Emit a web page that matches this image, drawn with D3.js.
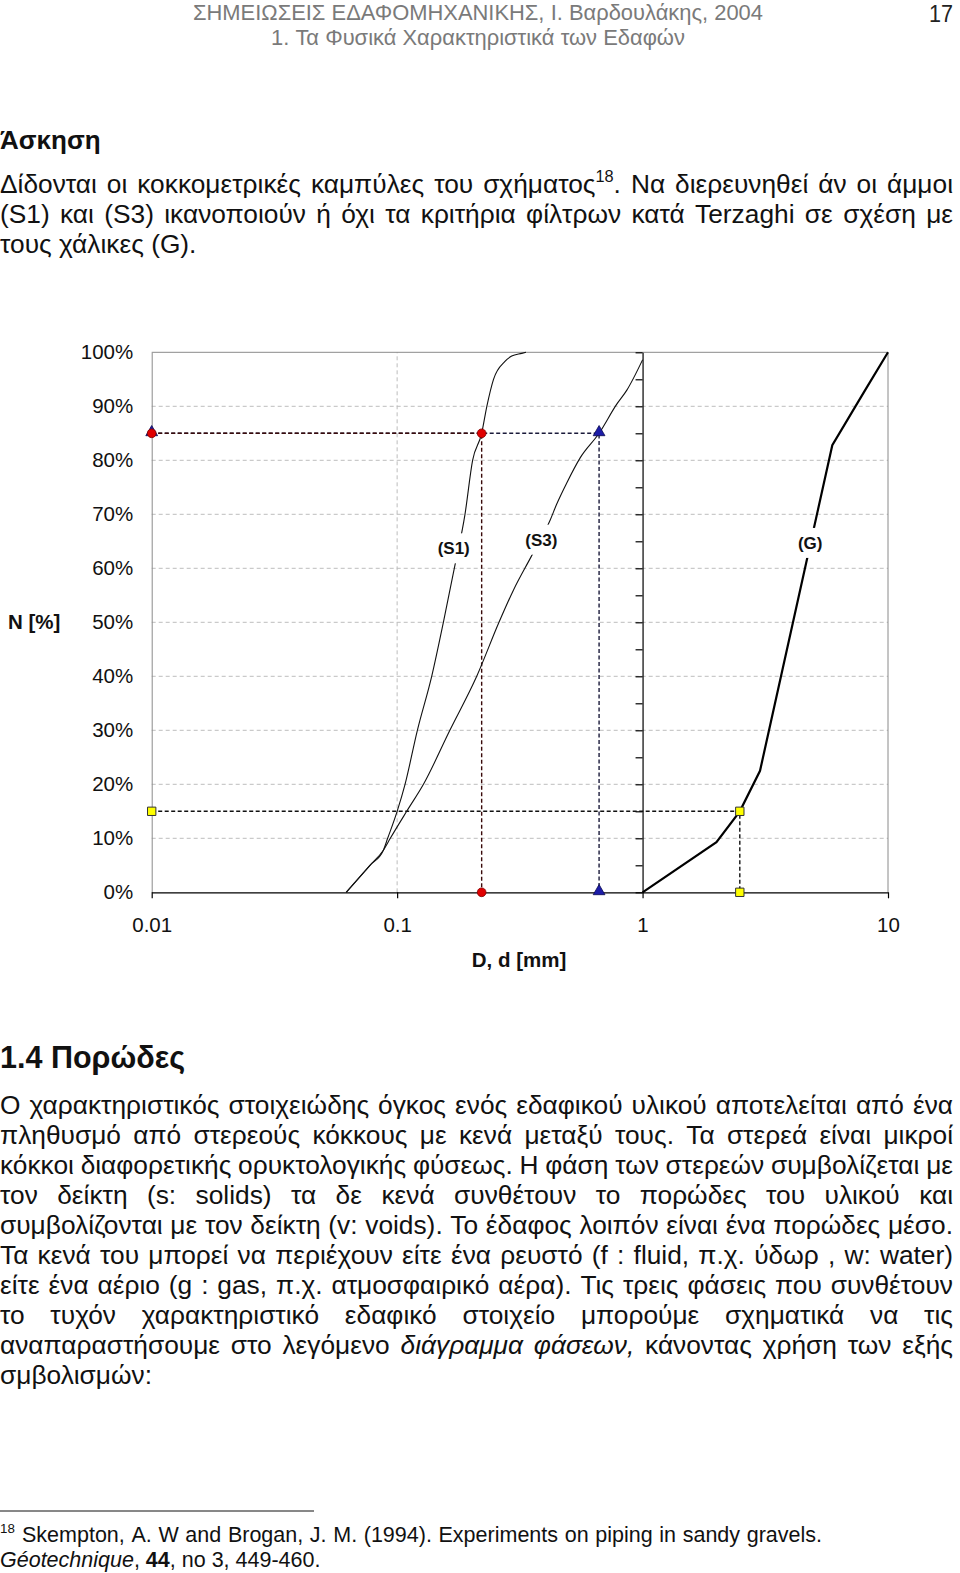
<!DOCTYPE html>
<html><head><meta charset="utf-8">
<script src="https://cdn.jsdelivr.net/npm/d3@7"></script>
<style>body{margin:0;background:#fff} svg{display:block}</style>
</head><body>
<svg id="page" width="960" height="1573"></svg>
<script>
// ---------- chart data ----------
const yTickValues = [0,10,20,30,40,50,60,70,80,90,100];
const yTickLabels = ["0%","10%","20%","30%","40%","50%","60%","70%","80%","90%","100%"];
const xTickValues = [0.01,0.1,1,10];
const xTickLabels = ["0.01","0.1","1","10"];
const minorTickValues = [0,5,10,15,20,25,30,35,40,45,50,55,60,65,70,75,80,85,90,95,100];
const gridNValues = [10,20,30,40,50,60,70,80,90];
const gridDValues = [0.1];

const s1D = [0.062,0.0775,0.0879,0.0915,0.100,0.1077,0.1209,0.1383,0.1543,0.171,0.189,0.203,0.221,0.232,0.247,0.275,0.293,0.322,0.335];
const s1N = [0,5,7.8,10,15,20,30,40,50,60,70,80,85,90,95,98.3,99.3,99.8,100];
const s3D = [0.062,0.0775,0.0879,0.0938,0.1094,0.128,0.164,0.211,0.26,0.298,0.353,0.42,0.447,0.491,0.556,0.665,0.785,0.863,1.0];
const s3N = [0,5,7.8,10,15,20,30,40,50,56,62.3,68.9,71.9,75.8,80.4,85,90.4,93,98.6];
const gD = [1,2.0,2.49,3.01,5.93,8.07,10];
const gN = [0,9.3,15,22.5,82.8,93,100];

const redD = [0.01,0.221,0.221];   const redN = [85,85,0];
const blueD = [0.01,0.665,0.665];  const blueN = [85,85,0];
const yellowD = [0.01,2.49,2.49];  const yellowN = [15,15,0];

const curveLabels = ["(S1)","(S3)","(G)"];
const curveLabelD = [0.170,0.387,4.82];
const curveLabelN = [63.7,65.3,64.7];

const yAxisTitle = "N [%]";
const xAxisTitle = "D, d [mm]";

// ---------- page text ----------
const headerLine1 = "ΣΗΜΕΙΩΣΕΙΣ ΕΔΑΦΟΜΗΧΑΝΙΚΗΣ,  Ι. Βαρδουλάκης, 2004";
const headerLine2 = "1. Τα Φυσικά Χαρακτηριστικά των Εδαφών";
const pageNumber = "17";
const heading1 = "Άσκηση";
const para1 = [
  "Δίδονται οι κοκκομετρικές καμπύλες του σχήματος^18^. Να διερευνηθεί άν οι άμμοι",
  "(S1) και (S3) ικανοποιούν ή όχι τα κριτήρια φίλτρων κατά Terzaghi σε σχέση με",
  "τους χάλικες (G)."
];
const heading2 = "1.4 Πορώδες";
const para2 = [
  "Ο χαρακτηριστικός στοιχειώδης όγκος ενός εδαφικού υλικού αποτελείται από ένα",
  "πληθυσμό από στερεούς κόκκους με κενά μεταξύ τους. Τα στερεά είναι μικροί",
  "κόκκοι διαφορετικής ορυκτολογικής φύσεως. Η φάση των στερεών συμβολίζεται με",
  "τον δείκτη (s: solids) τα δε κενά συνθέτουν το πορώδες του υλικού και",
  "συμβολίζονται με τον δείκτη (v: voids). Το έδαφος λοιπόν είναι ένα πορώδες μέσο.",
  "Τα κενά του μπορεί να περιέχουν είτε ένα ρευστό (f : fluid, π.χ. ύδωρ , w: water)",
  "είτε ένα αέριο (g : gas, π.χ. ατμοσφαιρικό αέρα). Τις τρεις φάσεις που συνθέτουν",
  "το τυχόν χαρακτηριστικό εδαφικό στοιχείο μπορούμε σχηματικά να τις",
  "αναπαραστήσουμε στο λεγόμενο _διάγραμμα_ _φάσεων,_ κάνοντας χρήση των εξής",
  "σμβολισμών:"
];
const foot1 = "Skempton, A. W and Brogan, J. M. (1994). Experiments on piping in sandy gravels.";
const foot2 = "_Géotechnique_, *44*, no 3, 449-460.";
const footMark = "18";

// ---------- drawing ----------
const svg = d3.select("#page");
const FONT = "'Liberation Sans', Arial, Helvetica, sans-serif";

function parseWord(w){
  const segs = [];
  const re = /(_[^_]+_|\*[^*]+\*|\^[^^]+\^|[^_*^]+)/g;
  let m;
  while((m = re.exec(w))){
    const t = m[0];
    if(t[0]==="_") segs.push({t:t.slice(1,-1), i:true});
    else if(t[0]==="*") segs.push({t:t.slice(1,-1), b:true});
    else if(t[0]==="^") segs.push({t:t.slice(1,-1), sup:true});
    else segs.push({t});
  }
  return segs;
}

// mode: "left" (natural spacing), "justify" (stretch spaces), "fit" (natural spacing, compress glyphs to width)
function drawLine(str, o){
  const size = o.size;
  const g = svg.append("g");
  const text = g.append("text").attr("font-family", FONT).attr("font-size", size)
    .attr("fill", o.fill || "#111").attr("font-weight", o.weight || "normal");
  const words = str.split(/\s+/).filter(d=>d.length);
  const info = words.map(w=>{
    const segs = parseWord(w);
    const spans = segs.map(s=>{
      const ts = text.append("tspan").text(s.t).attr("y", s.sup ? -size*0.42 : 0);
      if(s.i) ts.attr("font-style","italic");
      if(s.b) ts.attr("font-weight","bold");
      if(s.sup) ts.attr("font-size", size*0.62);
      return ts;
    });
    const width = d3.sum(spans, ts=>ts.node().getComputedTextLength());
    return {spans, width};
  });
  const total = d3.sum(info, d=>d.width);
  let gap = size*0.278, sx = 1;
  const mode = o.mode || "left";
  if(mode==="justify" && info.length>1){
    gap = (o.x1 - o.x0 - total)/(info.length-1);
  } else if(mode==="fit"){
    sx = (o.x1 - o.x0)/(total + gap*(info.length-1));
  }
  g.attr("transform", `translate(${o.x0},${o.y}) scale(${sx},1)`);
  let x = 0;
  info.forEach(d=>{ d.spans[0].attr("x", x); x += d.width + gap; });
  return g;
}

// header
drawLine(headerLine1, {x0:193, x1:763, y:20, size:22, mode:"fit", fill:"#7a7a7a"});
drawLine(headerLine2, {x0:271, x1:685, y:45, size:22, mode:"fit", fill:"#7a7a7a"});
drawLine(pageNumber, {x0:929, x1:953, y:22, size:24, mode:"fit", fill:"#222"});

// first block
drawLine(heading1, {x0:0, y:149, size:26, weight:"bold"});
para1.forEach((l,i)=> drawLine(l, {x0:0, x1:953, y:193+30*i, size:26.3, mode: i<para1.length-1 ? "justify" : "left"}));

// section 1.4
drawLine(heading2, {x0:0, y:1068, size:30.5, weight:"bold"});
para2.forEach((l,i)=> drawLine(l, {x0:0, x1:953, y:1113.5+30*i, size:26.3, mode: i<para2.length-1 ? "justify" : "left"}));

// footnote
svg.append("line").attr("x1",0).attr("x2",314).attr("y1",1511).attr("y2",1511)
  .attr("stroke","#111").attr("stroke-width",1);
drawLine("^"+footMark+"^", {x0:0, y:1542, size:21.5});
drawLine(foot1, {x0:22, x1:822, y:1542, size:21.5, mode:"justify"});
drawLine(foot2, {x0:0, y:1567, size:21.5});

// ---------- chart ----------
const x = d3.scaleLog().domain([0.01,10]).range([151.7,888]);
const y = d3.scaleLinear().domain([0,100]).range([892.3,352.3]);
const chart = svg.append("g").attr("font-family", FONT);

// gridlines
chart.append("g").selectAll("line").data(gridNValues).join("line")
  .attr("x1", x(0.01)).attr("x2", x(10)).attr("y1", d=>y(d)).attr("y2", d=>y(d))
  .attr("stroke","#bdbdbd").attr("stroke-dasharray","4,3");
chart.append("g").selectAll("line").data(gridDValues).join("line")
  .attr("x1", d=>x(d)).attr("x2", d=>x(d)).attr("y1", y(0)).attr("y2", y(100))
  .attr("stroke","#bdbdbd").attr("stroke-dasharray","4,3");

// frame (top, right)
chart.append("line").attr("x1",x(0.01)).attr("x2",x(10)).attr("y1",y(100)).attr("y2",y(100))
  .attr("stroke","#8a8a8a");
chart.append("line").attr("x1",x(10)).attr("x2",x(10)).attr("y1",y(0)).attr("y2",y(100))
  .attr("stroke","#8a8a8a");

// left axis
const yAxis = d3.axisLeft(y).tickValues(yTickValues).tickFormat((d,i)=>yTickLabels[i])
  .tickSize(0).tickPadding(18.5);
const ya = chart.append("g").attr("transform",`translate(${x(0.01)},0)`).call(yAxis);
ya.select(".domain").attr("stroke","#8a8a8a");
ya.selectAll("text").attr("font-size",20.5).attr("fill","#111").attr("font-family",FONT);

// secondary axis at D=1
const y2Axis = d3.axisLeft(y).tickValues(minorTickValues).tickFormat("").tickSize(7).tickSizeOuter(0);
const y2 = chart.append("g").attr("transform",`translate(${x(1)},0)`).call(y2Axis);
y2.selectAll("path,line").attr("stroke","#000").attr("stroke-width",1.2);

// bottom axis
const xAxis = d3.axisBottom(x).tickValues(xTickValues).tickFormat((d,i)=>xTickLabels[i])
  .tickSize(6).tickSizeOuter(0).tickPadding(19);
const xa = chart.append("g").attr("transform",`translate(0,${y(0)})`).call(xAxis);
xa.selectAll("path,line").attr("stroke","#000").attr("stroke-width",1.2);
xa.selectAll("text").attr("font-size",20.5).attr("fill","#111").attr("font-family",FONT);

// axis titles
chart.append("text").attr("x",8).attr("y",629).attr("font-size",20.5).attr("font-weight","bold")
  .attr("fill","#111").text(yAxisTitle);
chart.append("text").attr("x",519).attr("y",967).attr("text-anchor","middle").attr("font-size",20.5)
  .attr("font-weight","bold").attr("fill","#111").text(xAxisTitle);

// reference dashed lines
const pts = (D,N)=>D.map((d,i)=>[d,N[i]]);
const lin = d3.line().x(d=>x(d[0])).y(d=>y(d[1]));
chart.append("path").attr("d", lin(pts(blueD,blueN))).attr("fill","none")
  .attr("stroke","#1a1a3a").attr("stroke-width",1.4).attr("stroke-dasharray","4,2.5");
chart.append("path").attr("d", lin(pts(redD,redN))).attr("fill","none")
  .attr("stroke","#3a0a0a").attr("stroke-width",1.4).attr("stroke-dasharray","4,2.5");
chart.append("path").attr("d", lin(pts(yellowD,yellowN))).attr("fill","none")
  .attr("stroke","#111").attr("stroke-width",1.4).attr("stroke-dasharray","4,2.5");

// curves
const smooth = d3.line().x(d=>x(d[0])).y(d=>y(d[1])).curve(d3.curveMonotoneX);
chart.append("path").attr("d", smooth(pts(s1D,s1N))).attr("fill","none").attr("stroke","#111").attr("stroke-width",1.1);
chart.append("path").attr("d", smooth(pts(s3D,s3N))).attr("fill","none").attr("stroke","#111").attr("stroke-width",1.1);
chart.append("path").attr("d", lin(pts(gD,gN))).attr("fill","none").attr("stroke","#000").attr("stroke-width",2.2);

// curve labels with white masks
const labelG = chart.append("g");
curveLabels.forEach((t,i)=>{
  const cx = x(curveLabelD[i]), cy = y(curveLabelN[i]);
  const rect = labelG.append("rect").attr("fill","#fff");
  const txt = labelG.append("text").attr("x",cx).attr("y",cy+6).attr("text-anchor","middle")
    .attr("font-size",17).attr("font-weight","bold").attr("fill","#111").text(t);
  const w = txt.node().getComputedTextLength();
  rect.attr("x",cx-w/2-3).attr("y",cy-15).attr("width",w+6).attr("height",30);
});

// markers
const tri = d3.symbol().type(d3.symbolTriangle).size(60);
const circ = d3.symbol().type(d3.symbolCircle).size(60);
const sq = d3.symbol().type(d3.symbolSquare).size(70);
chart.append("g").selectAll("path").data(pts(blueD,blueN)).join("path")
  .attr("transform", d=>`translate(${x(d[0])},${y(d[1])-1})`).attr("d", tri())
  .attr("fill","#1c1ca8").attr("stroke","#0a0a50").attr("stroke-width",0.8);
chart.append("g").selectAll("path").data(pts(redD,redN)).join("path")
  .attr("transform", d=>`translate(${x(d[0])},${y(d[1])})`).attr("d", circ())
  .attr("fill","#e00000").attr("stroke","#800000").attr("stroke-width",0.8);
chart.append("g").selectAll("path").data(pts(yellowD,yellowN)).join("path")
  .attr("transform", d=>`translate(${x(d[0])},${y(d[1])})`).attr("d", sq())
  .attr("fill","#ffff00").attr("stroke","#333").attr("stroke-width",1);
</script>
</body></html>
